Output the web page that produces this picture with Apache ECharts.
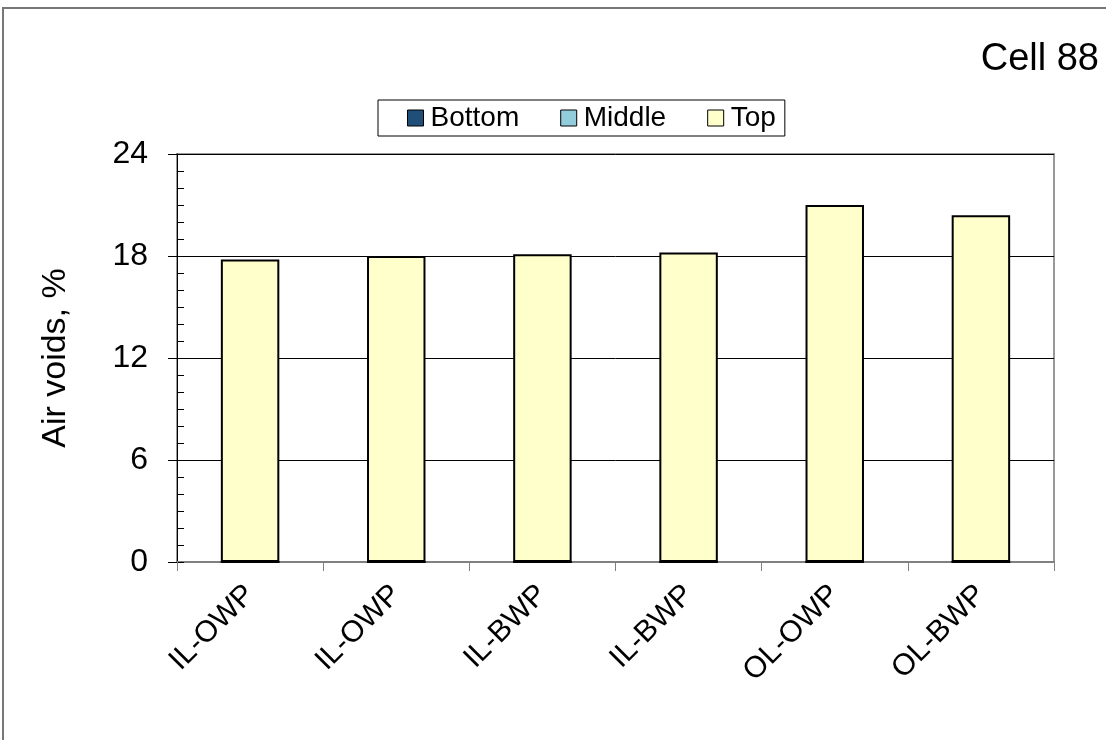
<!DOCTYPE html>
<html>
<head>
<meta charset="utf-8">
<script src="https://cdn.jsdelivr.net/npm/echarts@6/dist/echarts.min.js"></script>
<style>
  html, body { margin: 0; padding: 0; background: #fff; }
  #chart { width: 1106px; height: 740px; }
</style>
</head>
<body>
<div id="chart"></div>
<script>
  // data
  var categories = ['IL-OWP', 'IL-OWP', 'IL-BWP', 'IL-BWP', 'OL-OWP', 'OL-BWP'];
  var bottomVals = [0, 0, 0, 0, 0, 0];
  var middleVals = [0, 0, 0, 0, 0, 0];
  var topVals = [17.8, 18.0, 18.1, 18.2, 21.0, 20.4];
  var yTicks = [0, 6, 12, 18, 24];

  var font = 'Arial, "Liberation Sans", sans-serif';
  var chart = echarts.init(document.getElementById('chart'));

  function barSeries(name, color, data) {
    return {
      name: name,
      type: 'bar',
      stack: 'voids',
      barWidth: '40%',
      data: data,
      itemStyle: { color: color, borderColor: '#000', borderWidth: 2 }
    };
  }

  chart.setOption({
    animation: false,
    textStyle: { fontFamily: font, color: '#000' },
    title: {
      text: 'Cell 88',
      right: 2,
      top: 36,
      textStyle: { fontFamily: font, fontSize: 38, fontWeight: 'normal', color: '#000' }
    },
    legend: {
      left: 378,
      top: 100,
      padding: [4, 9, 4, 29],
      itemGap: 41,
      itemWidth: 16,
      itemHeight: 16,
      icon: 'rect',
      borderColor: '#000',
      borderWidth: 1,
      textStyle: { fontFamily: font, fontSize: 28, color: '#000', padding: [0, 0, 0, 2] },
      itemStyle: { borderColor: '#000', borderWidth: 1 },
      data: ['Bottom', 'Middle', 'Top']
    },
    graphic: [{
      type: 'rect',
      shape: { x: 3, y: 8, width: 1200, height: 800 },
      style: { fill: 'none', stroke: '#777', lineWidth: 2 },
      silent: true
    }],
    grid: {
      left: 177, right: 52, top: 154, bottom: 178,
      show: true, borderColor: '#999', borderWidth: 2, backgroundColor: 'transparent'
    },
    xAxis: {
      type: 'category',
      data: categories,
      axisLine: { lineStyle: { color: '#808080', width: 2 } },
      axisTick: { show: true, length: 9, lineStyle: { color: '#808080' } },
      axisLabel: { rotate: 45, margin: 28, fontSize: 30, color: '#000', fontFamily: font }
    },
    yAxis: [{
      type: 'value',
      min: yTicks[0],
      max: yTicks[yTicks.length - 1],
      interval: 6,
      name: 'Air voids, %',
      nameLocation: 'middle',
      nameGap: 104,
      nameTextStyle: { fontSize: 34, fontFamily: font, color: '#000' },
      axisLine: { show: true, lineStyle: { color: '#000', width: 1 } },
      axisTick: { show: true, length: 9, lineStyle: { color: '#000' } },
      axisLabel: { fontSize: 32, margin: 29, color: '#000', fontFamily: font },
      splitLine: { show: true, lineStyle: { color: '#000', width: 1 } }
    }, {
      type: 'value',
      position: 'left',
      min: 0,
      max: 24,
      interval: 1,
      axisLine: { show: false },
      axisTick: { show: true, inside: true, length: 7, lineStyle: { color: '#000' } },
      axisLabel: { show: false },
      splitLine: { show: false }
    }],
    series: [
      barSeries('Bottom', '#1f4e79', bottomVals),
      barSeries('Middle', '#92cddc', middleVals),
      barSeries('Top', '#ffffcc', topVals)
    ]
  });
</script>
</body>
</html>
